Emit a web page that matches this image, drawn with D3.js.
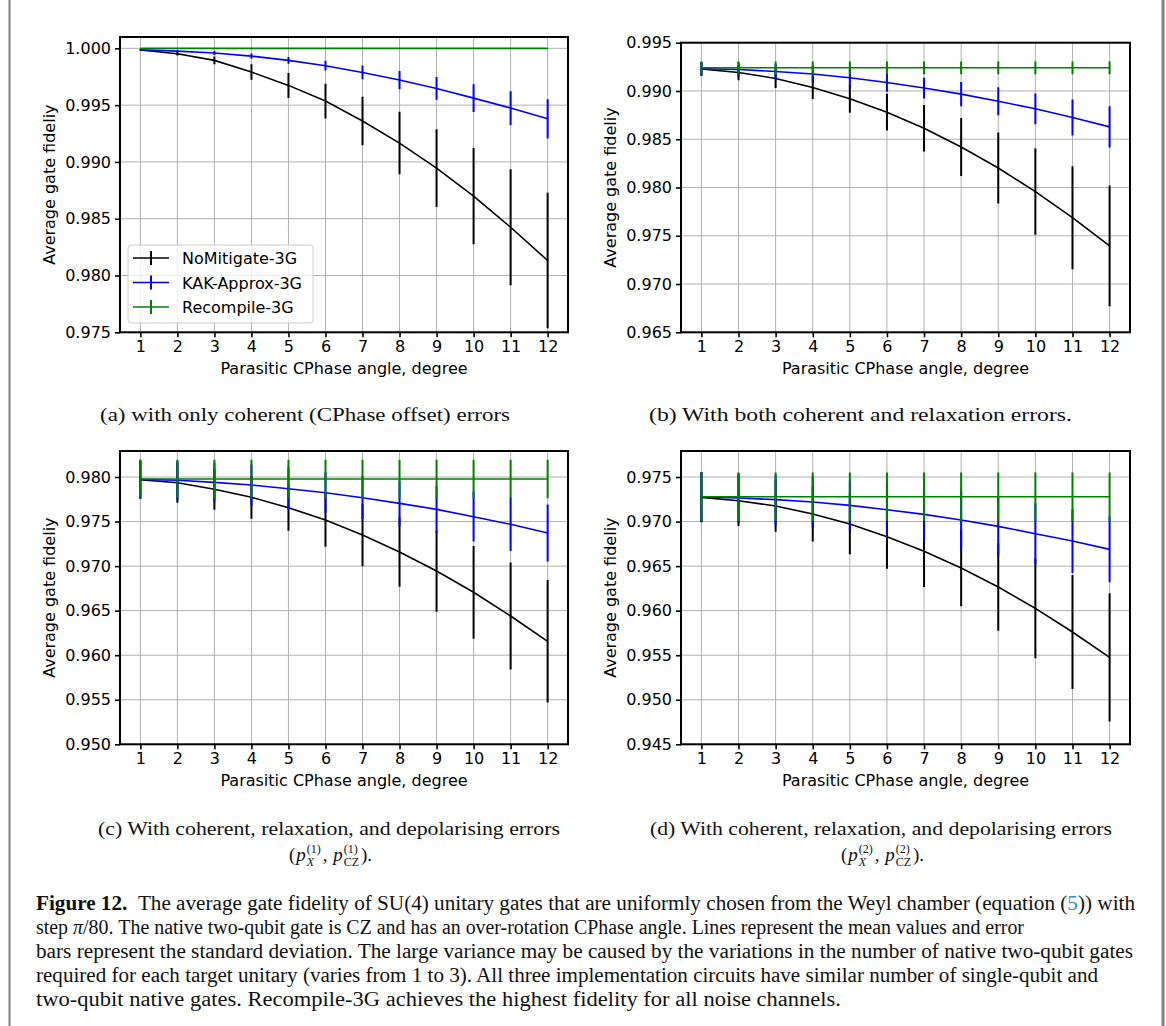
<!DOCTYPE html>
<html>
<head>
<meta charset="utf-8">
<script src="https://cdn.jsdelivr.net/npm/d3@7"></script>
<style>
  body { margin: 0; background: #fff; }
  svg { display: block; }
  .tick text { font-family: "DejaVu Sans", sans-serif; font-size: 16px; fill: #000; }
  .lab { font-family: "DejaVu Sans", sans-serif; font-size: 16px; fill: #000; }
  .cap { font-family: "Liberation Serif", "DejaVu Serif", serif; fill: #111; }
</style>
</head>
<body>
<svg id="fig"></svg>
<script>
const angles = [1, 2, 3, 4, 5, 6, 7, 8, 9, 10, 11, 12]
const seriesNames = ["NoMitigate-3G", "KAK-Approx-3G", "Recompile-3G"]

// (a) coherent only
const noMitA = [0.99985, 0.99953, 0.99894, 0.99791, 0.99674, 0.99536, 0.99360, 0.99166, 0.98945, 0.98699, 0.98425, 0.98132]
const noMitErrA = [0.00004, 0.00015, 0.00034, 0.00068, 0.0011, 0.00153, 0.00213, 0.00275, 0.00342, 0.00423, 0.0051, 0.00596]
const kakA = [0.99988, 0.99976, 0.99959, 0.99932, 0.99894, 0.99847, 0.99788, 0.99721, 0.99647, 0.99562, 0.99474, 0.99380]
const kakErrA = [0.00005, 0.0001, 0.00018, 0.00022, 0.0003, 0.00043, 0.0006, 0.0008, 0.001, 0.00123, 0.00148, 0.00173]
const recA = [1.0, 1.0, 1.0, 1.0, 1.0, 1.0, 1.0, 1.0, 1.0, 1.0, 1.0, 1.0]
const recErrA = [0.00002, 0.00002, 0.00002, 0.00002, 0.00002, 0.00002, 0.00002, 0.00002, 0.00002, 0.00002, 0.00002, 0.00002]

// (b) coherent + relaxation
const noMitB = [0.99227, 0.99192, 0.9913, 0.99036, 0.98919, 0.98780, 0.98614, 0.98420, 0.98202, 0.97957, 0.97687, 0.97396]
const noMitErrB = [0.0007, 0.0008, 0.001, 0.0012, 0.00145, 0.0019, 0.0024, 0.003, 0.00367, 0.00446, 0.00533, 0.00626]
const kakB = [0.9923, 0.99223, 0.99202, 0.99175, 0.99137, 0.99088, 0.9903, 0.98967, 0.98894, 0.98815, 0.98725, 0.98628]
const kakErrB = [0.0007, 0.00075, 0.0008, 0.00085, 0.0009, 0.00095, 0.00107, 0.00125, 0.00145, 0.0016, 0.00187, 0.00213]
const recB = [0.9924, 0.9924, 0.9924, 0.9924, 0.9924, 0.9924, 0.9924, 0.9924, 0.9924, 0.9924, 0.9924, 0.9924]
const recErrB = [0.00066, 0.00066, 0.00066, 0.00066, 0.00066, 0.00066, 0.00066, 0.00066, 0.00066, 0.00066, 0.00066, 0.00066]

// (c) coherent + relaxation + depolarising (1)
const noMitC = [0.9797, 0.97936, 0.97862, 0.97772, 0.97656, 0.97517, 0.97349, 0.97158, 0.96945, 0.96706, 0.9644, 0.96156]
const noMitErrC = [0.0021, 0.00224, 0.0023, 0.0024, 0.0026, 0.003, 0.0035, 0.0039, 0.00456, 0.0052, 0.006, 0.00688]
const kakC = [0.97974, 0.97963, 0.9794, 0.9791, 0.97869, 0.97824, 0.97768, 0.97704, 0.97637, 0.97555, 0.97469, 0.97371]
const kakErrC = [0.0022, 0.0022, 0.0022, 0.0023, 0.0024, 0.0023, 0.0024, 0.00254, 0.0026, 0.0028, 0.003, 0.0032]
const recC = [0.97978, 0.97978, 0.97978, 0.97978, 0.97978, 0.97978, 0.97978, 0.97978, 0.97978, 0.97978, 0.97978, 0.97978]
const recErrC = [0.00215, 0.00215, 0.00215, 0.00215, 0.00215, 0.00215, 0.00215, 0.00215, 0.00215, 0.00215, 0.00215, 0.00215]

// (d) coherent + relaxation + depolarising (2)
const noMitD = [0.97272, 0.97234, 0.97175, 0.97085, 0.96972, 0.9683, 0.96666, 0.96479, 0.96265, 0.96026, 0.9576, 0.95476]
const noMitErrD = [0.0028, 0.00284, 0.0029, 0.0031, 0.0034, 0.0036, 0.004, 0.0043, 0.0049, 0.0056, 0.0064, 0.0072]
const kakD = [0.97276, 0.97264, 0.97246, 0.97219, 0.97182, 0.97133, 0.97081, 0.97017, 0.96946, 0.96864, 0.96782, 0.96688]
const kakErrD = [0.0028, 0.0028, 0.0028, 0.0029, 0.0028, 0.003, 0.0031, 0.0032, 0.0033, 0.0034, 0.0036, 0.0037]
const recD = [0.97279, 0.97279, 0.97279, 0.97279, 0.97279, 0.97279, 0.97279, 0.97279, 0.97279, 0.97279, 0.97279, 0.97279]
const recErrD = [0.00272, 0.00272, 0.00272, 0.00272, 0.00272, 0.00272, 0.00272, 0.00272, 0.00272, 0.00272, 0.00272, 0.00272]

const yTicksA = [0.975, 0.980, 0.985, 0.990, 0.995, 1.000]
const yTicksB = [0.965, 0.970, 0.975, 0.980, 0.985, 0.990, 0.995]
const yTicksC = [0.950, 0.955, 0.960, 0.965, 0.970, 0.975, 0.980]
const yTicksD = [0.945, 0.950, 0.955, 0.960, 0.965, 0.970, 0.975]

const colors = ["#000000", "#0000ff", "#008000"]

let w = 1166,
    h = 1026
let svg = d3.select("#fig").attr("width", w).attr("height", h)

// page frame lines
svg.append("line").attr("x1", 9.5).attr("x2", 9.5).attr("y1", 0).attr("y2", h)
    .attr("stroke", "#808080").attr("stroke-width", 2)
svg.append("line").attr("x1", 1163).attr("x2", 1163).attr("y1", 0).attr("y2", h)
    .attr("stroke", "#808080").attr("stroke-width", 3)

const panels = [
    {left: 120, right: 568, top: 37, bottom: 332.3, yDomain: [0.975, 1.001], yTicks: yTicksA,
     series: [[noMitA, noMitErrA], [kakA, kakErrA], [recA, recErrA]], legend: true},
    {left: 681, right: 1130, top: 42.7, bottom: 332.3, yDomain: [0.965, 0.995], yTicks: yTicksB,
     series: [[noMitB, noMitErrB], [kakB, kakErrB], [recB, recErrB]]},
    {left: 120, right: 568, top: 451, bottom: 744.3, yDomain: [0.950, 0.98292], yTicks: yTicksC,
     series: [[noMitC, noMitErrC], [kakC, kakErrC], [recC, recErrC]]},
    {left: 681, right: 1130, top: 451, bottom: 744.3, yDomain: [0.945, 0.97792], yTicks: yTicksD,
     series: [[noMitD, noMitErrD], [kakD, kakErrD], [recD, recErrD]]}
]

panels.forEach((p, pi) => {
    let x = d3.scaleLinear().domain([0.45, 12.55]).range([p.left, p.right])
    let y = d3.scaleLinear().domain(p.yDomain).range([p.bottom, p.top])
    let g = svg.append("g")

    let clipId = "clip" + pi
    svg.append("clipPath").attr("id", clipId).append("rect")
        .attr("x", p.left).attr("y", p.top)
        .attr("width", p.right - p.left).attr("height", p.bottom - p.top)

    // grid
    g.append("g").selectAll("line").data(angles).enter().append("line")
        .attr("x1", d => x(d)).attr("x2", d => x(d))
        .attr("y1", p.top).attr("y2", p.bottom)
        .attr("stroke", "#b0b0b0").attr("stroke-width", 1)
    g.append("g").selectAll("line").data(p.yTicks).enter().append("line")
        .attr("x1", p.left).attr("x2", p.right)
        .attr("y1", d => y(d)).attr("y2", d => y(d))
        .attr("stroke", "#b0b0b0").attr("stroke-width", 1)

    let plot = g.append("g").attr("clip-path", "url(#" + clipId + ")")
    p.series.forEach((s, si) => {
        let vals = s[0], errs = s[1]
        plot.append("g").selectAll("line").data(angles).enter().append("line")
            .attr("x1", d => x(d)).attr("x2", d => x(d))
            .attr("y1", (d, i) => y(vals[i] - errs[i]))
            .attr("y2", (d, i) => y(vals[i] + errs[i]))
            .attr("stroke", colors[si]).attr("stroke-width", 2)
        let line = d3.line().x((d, i) => x(d)).y((d, i) => y(vals[i]))
        plot.append("path").attr("d", line(angles))
            .attr("fill", "none").attr("stroke", colors[si]).attr("stroke-width", 1.6)
    })

    // frame
    g.append("rect").attr("x", p.left).attr("y", p.top)
        .attr("width", p.right - p.left).attr("height", p.bottom - p.top)
        .attr("fill", "none").attr("stroke", "#000").attr("stroke-width", 2)

    let xAxis = g.append("g").attr("transform", "translate(0," + p.bottom + ")")
        .call(d3.axisBottom(x).tickValues(angles).tickSize(5).tickPadding(3).tickFormat(d3.format("d")))
    let yAxis = g.append("g").attr("transform", "translate(" + p.left + ",0)")
        .call(d3.axisLeft(y).tickValues(p.yTicks).tickSize(5).tickPadding(4).tickFormat(d3.format(".3f")))
    ;[xAxis, yAxis].forEach(a => {
        a.select(".domain").remove()
        a.selectAll(".tick line").attr("stroke", "#000").attr("stroke-width", 1.6)
    })

    g.append("text").attr("class", "lab")
        .attr("x", (p.left + p.right) / 2).attr("y", p.bottom + 42)
        .attr("text-anchor", "middle")
        .text("Parasitic CPhase angle, degree")
    g.append("text").attr("class", "lab")
        .attr("transform", "translate(" + (p.left - 65) + "," + ((p.top + p.bottom) / 2) + ") rotate(-90)")
        .attr("text-anchor", "middle")
        .text("Average gate fideliy")

    if (p.legend) {
        let lg = g.append("g")
        lg.append("rect").attr("x", 128).attr("y", 245).attr("width", 185).attr("height", 78)
            .attr("rx", 3).attr("fill", "#fff").attr("fill-opacity", 0.8)
            .attr("stroke", "#cccccc").attr("stroke-width", 1)
        seriesNames.forEach((n, i) => {
            let ly = 258 + i * 24.5
            lg.append("line").attr("x1", 133).attr("x2", 169).attr("y1", ly).attr("y2", ly)
                .attr("stroke", colors[i]).attr("stroke-width", 1.6)
            lg.append("line").attr("x1", 151).attr("x2", 151).attr("y1", ly - 7).attr("y2", ly + 7)
                .attr("stroke", colors[i]).attr("stroke-width", 2)
            lg.append("text").attr("class", "lab").attr("x", 182).attr("y", ly + 6).text(n)
        })
    }
})

// sub captions
function cap(x, y, txt, len, size) {
    return svg.append("text").attr("class", "cap")
        .attr("x", x).attr("y", y).attr("font-size", size)
        .attr("textLength", len).attr("lengthAdjust", "spacingAndGlyphs")
        .text(txt)
}
cap(100, 421, "(a) with only coherent (CPhase offset) errors", 410, 19)
cap(649, 421, "(b) With both coherent and relaxation errors.", 423, 19)
cap(98, 835, "(c) With coherent, relaxation, and depolarising errors", 462, 19)
cap(650, 835, "(d) With coherent, relaxation, and depolarising errors", 462, 19)

function mathLine(cx, y, n) {
    let g = svg.append("g")
    let cx0 = 0
    let parts = [
        {t: "(", s: 19}, {t: "p", s: 19, it: true, sup: "(" + n + ")", sub: "X", subIt: true},
        {t: ", ", s: 19}, {t: "p", s: 19, it: true, sup: "(" + n + ")", sub: "CZ"},
        {t: ").", s: 19}
    ]
    parts.forEach(pt => {
        let t = g.append("text").attr("class", "cap").attr("x", cx0).attr("y", y)
            .attr("font-size", pt.s).attr("font-style", pt.it ? "italic" : "normal")
            .attr("xml:space", "preserve").text(pt.t)
        cx0 += t.node().getComputedTextLength() + 1
        if (pt.sup) {
            let a = g.append("text").attr("class", "cap").attr("x", cx0).attr("y", y - 8)
                .attr("font-size", 12).text(pt.sup)
            let b = g.append("text").attr("class", "cap").attr("x", cx0).attr("y", y + 5)
                .attr("font-size", 12).attr("font-style", pt.subIt ? "italic" : "normal").text(pt.sub)
            cx0 += Math.max(a.node().getComputedTextLength(), b.node().getComputedTextLength()) + 2
        }
    })
    g.attr("transform", "translate(" + (cx - cx0 / 2) + ",0)")
}
mathLine(331, 861, 1)
mathLine(883, 861, 2)

// figure caption
const capLines = [
    [["Figure 12.", "b"], ["\u2002The average gate fidelity of SU(4) unitary gates that are uniformly chosen from the Weyl chamber (equation ("], ["5", "link"], [")) with"]],
    [["step "], ["π", "i"], ["/80. The native two-qubit gate is CZ and has an over-rotation CPhase angle. Lines represent the mean values and error"]],
    [["bars represent the standard deviation. The large variance may be caused by the variations in the number of native two-qubit gates"]],
    [["required for each target unitary (varies from 1 to 3). All three implementation circuits have similar number of single-qubit and"]],
    [["two-qubit native gates. Recompile-3G achieves the highest fidelity for all noise channels."]]
]
const capWidths = [1099, 988, 1097, 1062, 805]
capLines.forEach((ln, i) => {
    let t = svg.append("text").attr("class", "cap")
        .attr("x", 36).attr("y", 910 + i * 24).attr("font-size", 20)
        .attr("textLength", capWidths[i]).attr("lengthAdjust", "spacingAndGlyphs")
    if (ln.length == 1) {
        t.text(ln[0][0])
        return
    }
    ln.forEach(seg => {
        let ts = t.append("tspan").text(seg[0])
        if (seg[1] == "b") ts.attr("font-weight", "bold")
        if (seg[1] == "i") ts.attr("font-style", "italic")
        if (seg[1] == "link") ts.attr("fill", "#2a8fd6")
    })
})
</script>
</body>
</html>
